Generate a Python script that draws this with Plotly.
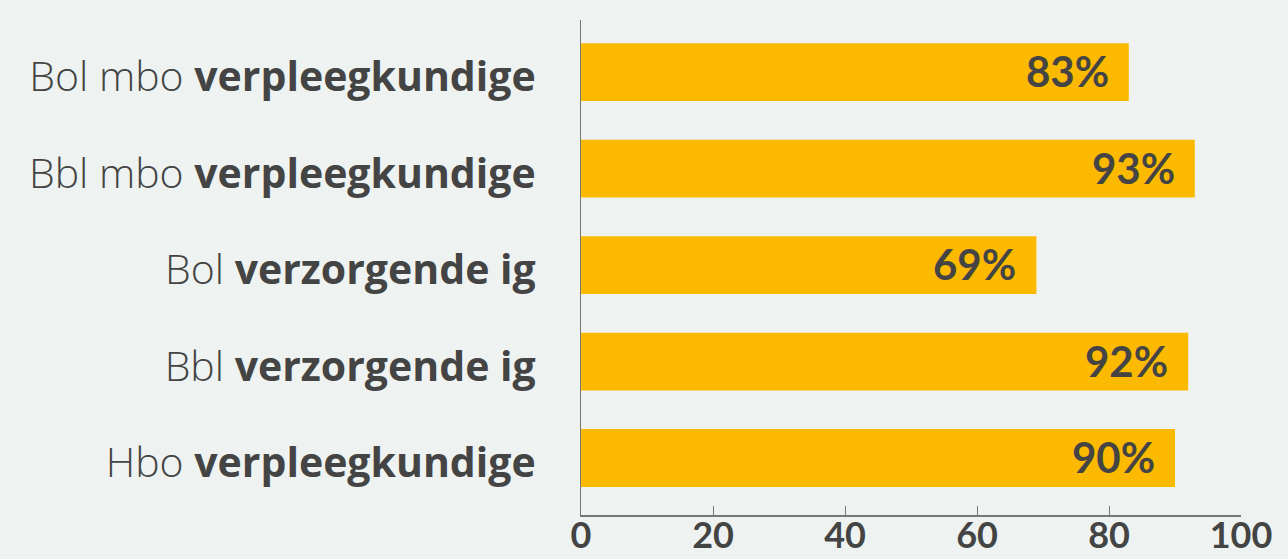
import plotly.graph_objects as go

categories_light = ["Bol mbo", "Bbl mbo", "Bol", "Bbl", "Hbo"]
categories_bold = ["verpleegkundige", "verpleegkundige", "verzorgende ig", "verzorgende ig", "verpleegkundige"]
values = [83, 93, 69, 92, 90]
x_ticks = [0, 20, 40, 60, 80, 100]

labels = [f"{a} <b>{b}</b>" for a, b in zip(categories_light, categories_bold)]
text_color = "#444444"
bg = "#eef3f1"

fig = go.Figure()
fig.add_trace(go.Bar(
    x=values, y=labels, orientation="h",
    marker=dict(color="#fbb900", line=dict(width=0)),
    hoverinfo="skip",
))
for v, lab in zip(values, labels):
    fig.add_annotation(x=v, y=lab, text=f"<b>{v}%</b>", showarrow=False,
                       xanchor="right", xshift=-18, yshift=1,
                       font=dict(family="Lato", size=42, color=text_color))

fig.update_layout(
    width=1288, height=559,
    margin=dict(l=581, r=47, t=20, b=44, autoexpand=False),
    paper_bgcolor=bg, plot_bgcolor=bg,
    bargap=0.4, showlegend=False,
    xaxis=dict(range=[0, 100], tickvals=x_ticks, showgrid=False, zeroline=False,
               automargin=False,
               showline=True, linecolor="#777777", linewidth=1.5,
               ticks="inside", ticklen=9, tickcolor="#777777", tickwidth=1.2,
               tickfont=dict(family="Lato", size=36, color=text_color, weight="bold"),
               ticklabelstandoff=-12),
    yaxis=dict(categoryorder="array", categoryarray=labels, automargin=False,
               range=[4.59, -0.54], showgrid=False, zeroline=False,
               showline=True, linecolor="#777777", linewidth=1.2, ticks="",
               tickfont=dict(family="Open Sans", size=41, color=text_color, weight=300),
               ticklabelstandoff=36, ticklabelshift=-5),
)
fig.write_html("out.html", config={"displayModeBar": False},
               post_script="document.body.style.margin='0';document.body.style.background='%s';" % bg)
